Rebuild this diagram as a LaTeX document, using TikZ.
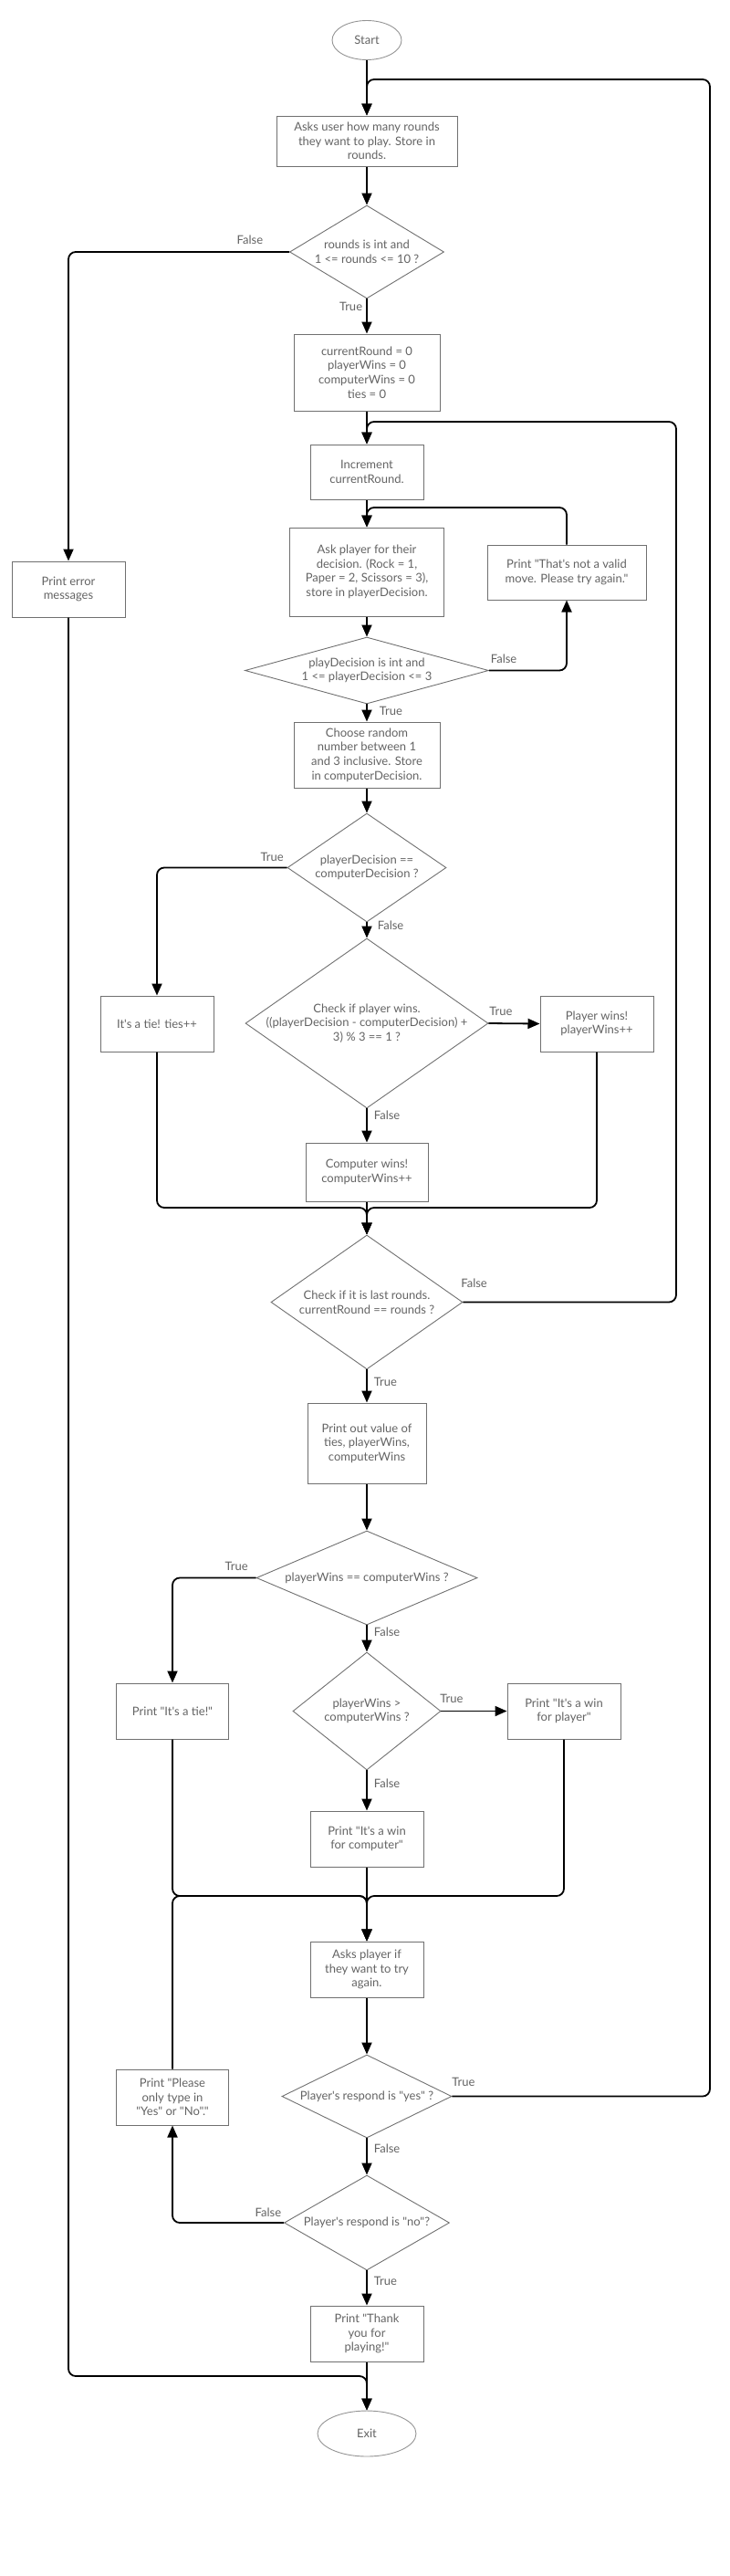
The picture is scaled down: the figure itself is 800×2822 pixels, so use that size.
\documentclass[tikz,border=0pt]{standalone}
\usepackage{fontspec}
\setmainfont{Lato}[Ligatures=TeXOff]
\usetikzlibrary{shapes.geometric,arrows.meta}
\definecolor{boxgray}{HTML}{707070}
\definecolor{txtgray}{HTML}{636363}
\tikzset{
  base/.style={font=\fontsize{13}{15.6}\selectfont, text=txtgray},
  proc/.style={base, draw=boxgray, line width=1pt, rectangle, align=center, inner sep=0pt, minimum width=124pt, minimum height=61pt},
  term/.style={base, draw=boxgray!75, line width=0.9pt, ellipse, inner sep=0pt},
  decision/.style={draw=boxgray, line width=0.9pt, diamond, inner sep=0pt},
  dtext/.style={base, align=center},
  lbl/.style={base, inner sep=2pt},
  lbls/.style={lbl, anchor=north west, xshift=5pt},
  flow/.style={draw=black, line width=1.8pt, rounded corners=8pt, -{Triangle[length=13pt,width=11pt]}}
}
\begin{document}
\begin{tikzpicture}[x=1pt,y=-1pt]
\useasboundingbox (0,0) rectangle (800,2822);
\node[term, minimum width=76pt, minimum height=43pt] (start) at (402,44) {Start};
\node[proc, minimum width=198pt, minimum height=55pt] (askrounds) at (402,154.5) {Asks user how many rounds\\they want to play. Store in\\rounds.};
\node[decision, minimum width=169pt, minimum height=102pt, label={[dtext]center:{rounds is int and\\1 <= rounds <= 10 ?}}] (chkrounds) at (402,276) {};
\node[proc, minimum width=160pt, minimum height=84pt] (initvars) at (402,408) {currentRound = 0\\playerWins = 0\\computerWins = 0\\ties = 0};
\node[proc, minimum height=60pt] (incround) at (402,517) {Increment\\currentRound.};
\node[proc, minimum width=169pt, minimum height=97pt] (askmove) at (402,626.5) {Ask player for their\\decision. (Rock = 1,\\Paper = 2, Scissors = 3),\\store in playerDecision.};
\node[proc, minimum width=174pt, minimum height=60pt] (badmove) at (621,627) {Print "That's not a valid\\move. Please try again."};
\node[proc] (errmsg) at (75,645.5) {Print error\\messages};
\node[decision, minimum width=267pt, minimum height=73pt, label={[dtext]center:{playDecision is int and\\1 <= playerDecision <= 3}}] (chkmove) at (402,734.5) {};
\node[proc, minimum width=160pt, minimum height=72pt] (compmove) at (402,827) {Choose random\\number between 1\\and 3 inclusive. Store\\in computerDecision.};
\node[decision, minimum width=174pt, minimum height=119pt, label={[dtext]center:{playerDecision ==\\computerDecision ?}}] (chktie) at (402,950.5) {};
\node[decision, minimum width=266pt, minimum height=186pt, label={[dtext]center:{Check if player wins.\\((playerDecision - computerDecision) +\\3) \% 3 == 1 ?}}] (chkwin) at (402,1121) {};
\node[proc] (tiebox) at (172,1121.5) {It's a tie! ties++};
\node[proc] (playerwin) at (654,1121.5) {Player wins!\\playerWins++};
\node[proc, minimum width=134pt, minimum height=64pt] (compwin) at (402,1284) {Computer wins!\\computerWins++};
\node[decision, minimum width=210pt, minimum height=147pt, label={[dtext]center:{Check if it is last rounds.\\currentRound == rounds ?}}] (chklast) at (402,1426.5) {};
\node[proc, minimum width=130pt, minimum height=88pt] (showstats) at (402,1581) {Print out value of\\ties, playerWins,\\computerWins};
\node[decision, minimum width=242pt, minimum height=103pt, label={[dtext]center:{playerWins == computerWins ?}}] (chkeq) at (402,1728.5) {};
\node[decision, minimum width=162pt, minimum height=129pt, label={[dtext]center:{playerWins >\\computerWins ?}}] (chkmore) at (402,1874.5) {};
\node[proc, minimum width=123pt] (printtie) at (189,1874.5) {Print "It's a tie!"};
\node[proc] (printplayer) at (618,1874.5) {Print "It's a win\\for player"};
\node[proc] (printcomp) at (402,2014.5) {Print "It's a win\\for computer"};
\node[proc] (askagain) at (402,2157.5) {Asks player if\\they want to try\\again.};
\node[decision, minimum width=186pt, minimum height=91pt, label={[dtext]center:{Player's respond is "yes" ?}}] (chkyes) at (402,2296.5) {};
\node[proc, minimum width=123pt] (badans) at (189,2297.5) {Print "Please\\only type in\\"Yes" or "No"."};
\node[decision, minimum width=181pt, minimum height=104pt, label={[dtext]center:{Player's respond is "no"?}}] (chkno) at (402,2435) {};
\node[proc] (thanks) at (402,2556.5) {Print "Thank\\you for\\playing!"};
\node[term, minimum width=108pt, minimum height=50pt] (exit) at (402,2666) {Exit};
\coordinate (outerTop) at (778,87);
\coordinate (innerTop) at (741,462);
\coordinate (moveTop) at (402,556);
\coordinate (roundJoin) at (402,1323);
\coordinate (resultJoin) at (402,2077);
\coordinate (exitJoin) at (402,2603);
\draw[flow] (start.south) -- (askrounds.north);
\draw[flow] (askrounds.south) -- (chkrounds.north);
\draw[flow] (chkrounds.west) node[lbl, anchor=south east, xshift=-26pt, yshift=6pt] {False} -| (errmsg.north);
\draw[flow] (chkrounds.south) node[lbl, anchor=north east, xshift=-2pt, yshift=-1pt] {True} -- (initvars.north);
\draw[flow] (initvars.south) -- (incround.north);
\draw[flow] (incround.south) -- (askmove.north);
\draw[flow] (askmove.south) -- (chkmove.north);
\draw[flow] (chkmove.east) node[lbl, anchor=south west, xshift=-1pt, yshift=5pt] {False} -| (badmove.south);
\draw[flow] (badmove.north) |- (moveTop) -- (askmove.north);
\draw[flow] (chkmove.south) node[lbls, xshift=6pt] {True} -- (compmove.north);
\draw[flow] (compmove.south) -- (chktie.north);
\draw[flow] (chktie.west) node[lbl, anchor=south east, xshift=-1pt, yshift=4pt] {True} -| (tiebox.north);
\draw[flow] (chktie.south) node[lbls, xshift=4pt, yshift=4pt] {False} -- (chkwin.north);
\draw[flow] (chkwin.east) node[lbl, anchor=south west, xshift=-2pt, yshift=6pt] {True} -- (playerwin.west);
\draw[flow] (chkwin.south) node[lbls] {False} -- (compwin.north);
\draw[flow] (tiebox.south) |- (roundJoin) -- (chklast.north);
\draw[flow] (playerwin.south) |- (roundJoin) -- (chklast.north);
\draw[flow] (compwin.south) -- (chklast.north);
\draw[flow] (chklast.east) node[lbl, anchor=south west, xshift=-5pt, yshift=13pt] {False} -| (innerTop) -- (innerTop -| incround.north) -- (incround.north);
\draw[flow] (chklast.south) node[lbls, yshift=-6pt] {True} -- (showstats.north);
\draw[flow] (showstats.south) -- (chkeq.north);
\draw[flow] (chkeq.west) node[lbl, anchor=south east, xshift=-6pt, yshift=5pt] {True} -| (printtie.north);
\draw[flow] (chkeq.south) node[lbls] {False} -- (chkmore.north);
\draw[flow] (chkmore.east) node[lbl, anchor=south west, xshift=-4pt, yshift=6pt] {True} -- (printplayer.west);
\draw[flow] (chkmore.south) node[lbls, yshift=-7pt] {False} -- (printcomp.north);
\draw[flow] (printtie.south) |- (resultJoin) -- (askagain.north);
\draw[flow] (printplayer.south) |- (resultJoin) -- (askagain.north);
\draw[flow] (printcomp.south) -- (askagain.north);
\draw[flow] (badans.north) |- (resultJoin) -- (askagain.north);
\draw[flow] (askagain.south) -- (chkyes.north);
\draw[flow] (chkyes.east) node[lbl, anchor=south west, xshift=-3pt, yshift=8pt] {True} -| (outerTop) -- (outerTop -| askrounds.north) -- (askrounds.north);
\draw[flow] (chkyes.south) node[lbls, yshift=-4pt] {False} -- (chkno.north);
\draw[flow] (chkno.west) node[lbl, anchor=south east, yshift=4pt] {False} -| (badans.south);
\draw[flow] (chkno.south) node[lbls, yshift=-4pt] {True} -- (thanks.north);
\draw[flow] (thanks.south) -- (exit.north);
\draw[flow] (errmsg.south) |- (exitJoin) -- (exit.north);
\end{tikzpicture}
\end{document}
